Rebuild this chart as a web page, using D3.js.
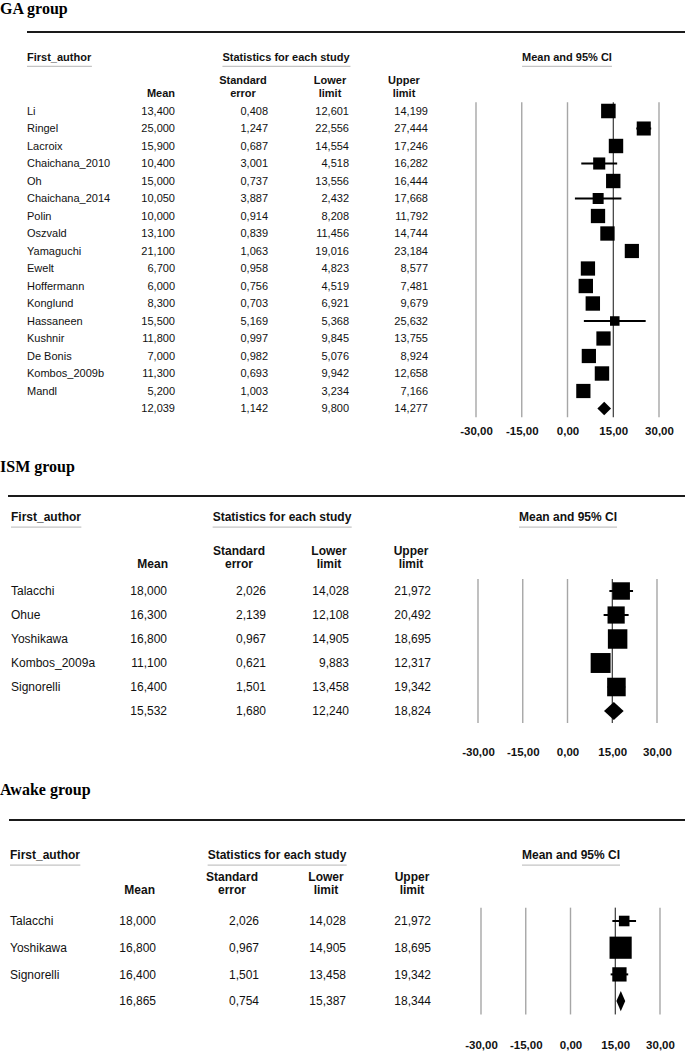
<!DOCTYPE html>
<html>
<head>
<meta charset="utf-8">
<script src="https://cdn.jsdelivr.net/npm/d3@7"></script>
<style>
  html, body { margin: 0; padding: 0; background: #fff; }
  svg { display: block; }
</style>
</head>
<body>
<div id="chart"></div>
<script>
// ---------------- DATA ----------------
const tickValues = [-30, -15, 0, 15, 30];
const refValue = 15;

const gaAuthors = ["Li","Ringel","Lacroix","Chaichana_2010","Oh","Chaichana_2014","Polin","Oszvald","Yamaguchi","Ewelt","Hoffermann","Konglund","Hassaneen","Kushnir","De Bonis","Kombos_2009b","Mandl"];
const gaMean  = [13.400,25.000,15.900,10.400,15.000,10.050,10.000,13.100,21.100,6.700,6.000,8.300,15.500,11.800,7.000,11.300,5.200];
const gaSE    = [0.408,1.247,0.687,3.001,0.737,3.887,0.914,0.839,1.063,0.958,0.756,0.703,5.169,0.997,0.982,0.693,1.003];
const gaLower = [12.601,22.556,14.554,4.518,13.556,2.432,8.208,11.456,19.016,4.823,4.519,6.921,5.368,9.845,5.076,9.942,3.234];
const gaUpper = [14.199,27.444,17.246,16.282,16.444,17.668,11.792,14.744,23.184,8.577,7.481,9.679,25.632,13.755,8.924,12.658,7.166];
const gaSummary = [12.039, 1.142, 9.800, 14.277];

const ismAuthors = ["Talacchi","Ohue","Yoshikawa","Kombos_2009a","Signorelli"];
const ismMean  = [18.000,16.300,16.800,11.100,16.400];
const ismSE    = [2.026,2.139,0.967,0.621,1.501];
const ismLower = [14.028,12.108,14.905,9.883,13.458];
const ismUpper = [21.972,20.492,18.695,12.317,19.342];
const ismSummary = [15.532, 1.680, 12.240, 18.824];

const awakeAuthors = ["Talacchi","Yoshikawa","Signorelli"];
const awakeMean  = [18.000,16.800,16.400];
const awakeSE    = [2.026,0.967,1.501];
const awakeLower = [14.028,14.905,13.458];
const awakeUpper = [21.972,18.695,19.342];
const awakeSummary = [16.865, 0.754, 15.387, 18.344];

const sectionTitles = ["GA group", "ISM group", "Awake group"];
const headerLabels = ["First_author", "Statistics for each study", "Mean and 95% CI"];
const colHeaders = [["Mean"], ["Standard", "error"], ["Lower", "limit"], ["Upper", "limit"]];

// ---------------- LAYOUT ----------------
const W = 685, H = 1053;
const layouts = [
  { titleY: 14, ruleY: 32, ruleX0: 27, headY: 57, col1: 80, col2: 93, row0: 111, step: 17.5,
    namesX: 27, valR: [175, 268, 349, 428], colC: [175, 243, 330, 404], statsC: 286, ciC: 567,
    xr: [476, 659], axisY: 431, font: 11 },
  { titleY: 472, ruleY: 496, ruleX0: 8, headY: 517, col1: 551, col2: 564, row0: 591, step: 24,
    namesX: 11, valR: [167, 266, 349, 431], colC: [168, 239, 329, 411], statsC: 282, ciC: 568,
    xr: [478, 657], axisY: 752, font: 12 },
  { titleY: 795, ruleY: 820, ruleX0: 9, headY: 855, col1: 877, col2: 890, row0: 921, step: 26.7,
    namesX: 10, valR: [156, 259, 346, 431], colC: [155, 232, 326, 412], statsC: 277, ciC: 571,
    xr: [481, 660], axisY: 1045, font: 12 }
];

const groups = [
  { authors: gaAuthors, mean: gaMean, se: gaSE, lower: gaLower, upper: gaUpper, summary: gaSummary },
  { authors: ismAuthors, mean: ismMean, se: ismSE, lower: ismLower, upper: ismUpper, summary: ismSummary },
  { authors: awakeAuthors, mean: awakeMean, se: awakeSE, lower: awakeLower, upper: awakeUpper, summary: awakeSummary }
];

const loc = d3.formatLocale({ decimal: ",", thousands: ".", grouping: [3], currency: ["", ""], minus: "-" });
const fmt3 = loc.format(".3f");
const fmt2 = loc.format(".2f");

// DerSimonian-Laird random-effects weights (for box sizes)
function reWeights(mean, se) {
  const w = se.map(s => 1 / (s * s));
  const sw = d3.sum(w);
  const yf = d3.sum(mean.map((m, i) => m * w[i])) / sw;
  const Q = d3.sum(mean.map((m, i) => w[i] * (m - yf) ** 2));
  const C = sw - d3.sum(w.map(v => v * v)) / sw;
  const tau2 = Math.max(0, (Q - (mean.length - 1)) / C);
  return se.map(s => 1 / (s * s + tau2));
}

const svg = d3.select("#chart").append("svg")
  .attr("width", W).attr("height", H)
  .attr("font-family", "'Liberation Sans', Arial, sans-serif");

groups.forEach((g, gi) => {
  const L = layouts[gi];
  const sec = svg.append("g");

  // title
  sec.append("text").attr("x", 0).attr("y", L.titleY)
    .attr("font-family", "'Liberation Serif', 'Times New Roman', serif")
    .attr("font-weight", "bold").attr("font-size", 16).attr("fill", "#000")
    .text(sectionTitles[gi]);

  // rule
  sec.append("line").attr("x1", L.ruleX0).attr("x2", W).attr("y1", L.ruleY).attr("y2", L.ruleY)
    .attr("stroke", "#1a1a1a").attr("stroke-width", 2);

  // section headers
  const heads = [
    { t: headerLabels[0], x: L.namesX, anchor: "start" },
    { t: headerLabels[1], x: L.statsC, anchor: "middle" },
    { t: headerLabels[2], x: L.ciC, anchor: "middle" }
  ];
  heads.forEach(h => {
    const t = sec.append("text").attr("x", h.x).attr("y", L.headY).attr("dy", "0.35em")
      .attr("text-anchor", h.anchor).attr("font-weight", "bold").attr("font-size", L.font)
      .attr("fill", "#111").text(h.t);
    const bb = t.node().getBBox();
    sec.append("line").attr("x1", bb.x).attr("x2", bb.x + bb.width)
      .attr("y1", L.headY + L.font * 0.85).attr("y2", L.headY + L.font * 0.85)
      .attr("stroke", "#c4c4c4").attr("stroke-width", 1.2);
  });

  // column headers
  colHeaders.forEach((lines, ci) => {
    const anchor = ci === 0 ? "end" : "middle";
    const ys = lines.length === 1 ? [L.col2] : [L.col1, L.col2];
    lines.forEach((ln, li) => {
      sec.append("text").attr("x", L.colC[ci]).attr("y", ys[li]).attr("dy", "0.35em")
        .attr("text-anchor", anchor).attr("font-weight", "bold").attr("font-size", L.font)
        .attr("fill", "#111").text(ln);
    });
  });

  const n = g.authors.length;
  const y = d3.scaleLinear().domain([0, n]).range([L.row0, L.row0 + n * L.step]);
  const x = d3.scaleLinear().domain([tickValues[0], tickValues[tickValues.length - 1]]).range(L.xr);

  // table rows
  const rows = g.authors.map((a, i) => ({
    name: a, vals: [g.mean[i], g.se[i], g.lower[i], g.upper[i]], i
  }));
  rows.push({ name: "", vals: g.summary, i: n });

  rows.forEach(r => {
    sec.append("text").attr("x", L.namesX).attr("y", y(r.i)).attr("dy", "0.35em")
      .attr("font-size", L.font).attr("fill", "#111").text(r.name);
    r.vals.forEach((v, ci) => {
      sec.append("text").attr("x", L.valR[ci]).attr("y", y(r.i)).attr("dy", "0.35em")
        .attr("text-anchor", "end").attr("font-size", L.font).attr("fill", "#111").text(fmt3(v));
    });
  });

  // forest plot grid
  const top = y(0) - L.step / 2, bottom = y(n) + L.step / 2;
  sec.append("g").selectAll("line").data(tickValues.filter(t => t !== refValue)).join("line")
    .attr("x1", d => x(d)).attr("x2", d => x(d)).attr("y1", top).attr("y2", bottom)
    .attr("stroke", "#a6a6a6").attr("stroke-width", 1.4);
  sec.append("line").attr("x1", x(refValue)).attr("x2", x(refValue)).attr("y1", top).attr("y2", bottom)
    .attr("stroke", "#111").attr("stroke-width", 1);

  // CI lines and boxes
  const w = reWeights(g.mean, g.se);
  const wmax = d3.max(w);
  const maxBox = 0.83 * L.step;
  const side = d3.scaleSqrt().domain([0, wmax]).range([0, maxBox]);
  const studies = g.authors.map((a, i) => ({ i, m: g.mean[i], lo: g.lower[i], hi: g.upper[i], s: side(w[i]) }));

  sec.append("g").selectAll("line").data(studies).join("line")
    .attr("x1", d => x(d.lo)).attr("x2", d => x(d.hi))
    .attr("y1", d => y(d.i)).attr("y2", d => y(d.i))
    .attr("stroke", "#000").attr("stroke-width", 2);
  sec.append("g").selectAll("rect").data(studies).join("rect")
    .attr("x", d => x(d.m) - d.s / 2).attr("y", d => y(d.i) - d.s / 2)
    .attr("width", d => d.s).attr("height", d => d.s).attr("fill", "#000");

  // summary diamond
  const hh = 0.38 * L.step;
  const sm = g.summary;
  const yc = y(n);
  sec.append("path")
    .attr("d", `M${x(sm[2])},${yc} L${x(sm[0])},${yc - hh} L${x(sm[3])},${yc} L${x(sm[0])},${yc + hh} Z`)
    .attr("fill", "#000");

  // axis labels
  const axis = d3.axisBottom(x).tickValues(tickValues).tickFormat(fmt2).tickSize(0).tickPadding(0);
  const ag = sec.append("g").attr("transform", `translate(0,${L.axisY})`).call(axis);
  ag.select(".domain").remove();
  ag.selectAll("text").attr("font-size", 11.5).attr("font-weight", "bold")
    .attr("font-family", "'Liberation Sans', Arial, sans-serif").attr("fill", "#111")
    .attr("dy", "0.35em").attr("y", 0);
});
</script>
</body>
</html>
